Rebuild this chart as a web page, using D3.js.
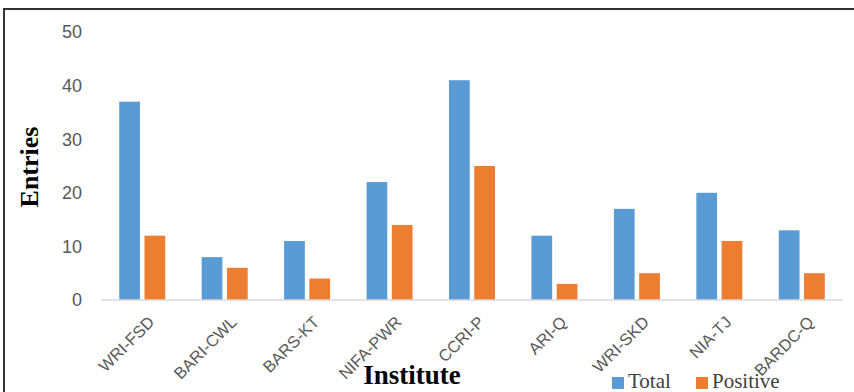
<!DOCTYPE html>
<html>
<head>
<meta charset="utf-8">
<script src="https://cdn.jsdelivr.net/npm/d3@7"></script>
<style>
  body { margin: 0; background: #fff; }
  svg { display: block; }
</style>
</head>
<body>
<div id="chart"></div>
<script>
// data
const institutes = ["WRI-FSD", "BARI-CWL", "BARS-KT", "NIFA-PWR", "CCRI-P", "ARI-Q", "WRI-SKD", "NIA-TJ", "BARDC-Q"];
const totalEntries = [37, 8, 11, 22, 41, 12, 17, 20, 13];
const positiveEntries = [12, 6, 4, 14, 25, 3, 5, 11, 5];
const seriesNames = ["Total", "Positive"];
const yTicks = [0, 10, 20, 30, 40, 50];

const width = 854, height = 392;
const colors = ["#5b9bd5", "#ed7d31"];

const svg = d3.select("#chart").append("svg")
    .attr("width", width)
    .attr("height", height);

// frame (only left and top edges show in the crop)
svg.append("path")
    .attr("d", "M4,392 V9 H854")
    .attr("fill", "none")
    .attr("stroke", "#333")
    .attr("stroke-width", 2);

const x = d3.scaleBand().domain(institutes).range([101, 843]);
const y = d3.scaleLinear().domain([0, 50]).range([300, 32]);
const inner = d3.scaleBand().domain(seriesNames).range([-23, 23]).paddingInner(0.18);

// y labels, no axis line
svg.append("g")
    .selectAll("text")
    .data(yTicks)
    .join("text")
    .attr("x", 82)
    .attr("y", d => y(d))
    .attr("dy", "0.35em")
    .attr("text-anchor", "end")
    .attr("fill", "#595959")
    .style("font", "18px 'Liberation Sans', Arial, sans-serif")
    .text(d => d);

// bars
const rows = institutes.map((name, i) => ({ name: name, values: [totalEntries[i], positiveEntries[i]] }));

const groups = svg.append("g")
    .selectAll("g")
    .data(rows)
    .join("g")
    .attr("transform", d => "translate(" + (x(d.name) + x.bandwidth() / 2) + ",0)");

groups.selectAll("rect")
    .data(d => d.values.map((v, k) => ({ key: seriesNames[k], value: v, k: k })))
    .join("rect")
    .attr("x", d => inner(d.key))
    .attr("width", inner.bandwidth())
    .attr("y", d => y(d.value))
    .attr("height", d => y(0) - y(d.value))
    .attr("fill", d => colors[d.k]);

// baseline
svg.append("line")
    .attr("x1", 101).attr("x2", 843)
    .attr("y1", y(0)).attr("y2", y(0))
    .attr("stroke", "#d9d9d9")
    .attr("stroke-width", 1.5);

// rotated category labels
svg.append("g")
    .selectAll("text")
    .data(institutes)
    .join("text")
    .attr("transform", d => "translate(" + (x(d) + x.bandwidth() / 2 + 5) + ",315) rotate(-45)")
    .attr("text-anchor", "end")
    .attr("dy", "0.7em")
    .attr("fill", "#595959")
    .style("font", "16.5px 'Liberation Sans', Arial, sans-serif")
    .text(d => d);

// axis titles
svg.append("text")
    .attr("transform", "translate(38,167) rotate(-90)")
    .attr("text-anchor", "middle")
    .style("font", "bold 26px 'Liberation Serif', 'Times New Roman', serif")
    .text("Entries");

svg.append("text")
    .attr("x", 412)
    .attr("y", 384)
    .attr("text-anchor", "middle")
    .style("font", "bold 27px 'Liberation Serif', 'Times New Roman', serif")
    .text("Institute");

// legend
const legendX = [612, 696];
const legend = svg.append("g")
    .selectAll("g")
    .data(seriesNames)
    .join("g")
    .attr("transform", (d, i) => "translate(" + legendX[i] + ",377)");

legend.append("rect")
    .attr("width", 12)
    .attr("height", 12)
    .attr("fill", (d, i) => colors[i]);

legend.append("text")
    .attr("x", 16)
    .attr("y", 11)
    .attr("fill", "#404040")
    .style("font", "21px 'Liberation Serif', 'Times New Roman', serif")
    .text(d => d);
</script>
</body>
</html>
